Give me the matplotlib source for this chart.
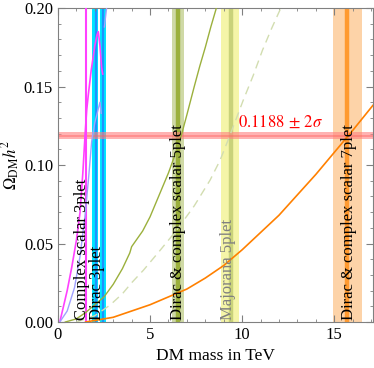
import numpy as np
import matplotlib
matplotlib.use("Agg")
import matplotlib.pyplot as plt
from matplotlib.ticker import MultipleLocator

plt.rcParams['font.family'] = ['Liberation Serif', 'DejaVu Serif']
plt.rcParams['mathtext.fontset'] = 'stix'

# relic abundance curves (mass in TeV, Omega h^2)
m_cs3 = [0.1, 0.2, 0.5, 0.75, 1.0, 1.2, 1.35, 1.47, 1.56, 1.65, 1.8, 2.0, 2.12, 2.19, 2.28, 2.37, 2.43]
om_cs3 = [0.0, 0.005, 0.02, 0.035, 0.052, 0.07, 0.095, 0.119, 0.135, 0.145, 0.16, 0.176, 0.183, 0.185, 0.176, 0.162, 0.158]

m_d3 = [0.1, 0.5, 0.9, 1.2, 1.47, 1.65, 1.83, 2.0, 2.15, 2.28, 2.35]
om_d3 = [0.0, 0.007, 0.022, 0.042, 0.068, 0.09, 0.115, 0.127, 0.134, 0.14, 0.133]
m_d3b = [2.52, 2.6, 2.66]
om_d3b = [0.188, 0.196, 0.202]

m_d5 = [0.4, 1.0, 1.5, 2.0, 2.5, 3.0, 3.5, 3.9, 4.0, 4.3, 4.6, 5.0, 5.5, 6.0, 6.4, 6.7, 7.0, 7.4, 7.7, 8.0, 8.3, 8.6]
om_d5 = [0.0, 0.002, 0.006, 0.011, 0.016, 0.024, 0.034, 0.044, 0.048, 0.053, 0.058, 0.067, 0.081, 0.095, 0.108, 0.119, 0.132, 0.15, 0.163, 0.175, 0.188, 0.2]

m_m5 = [1.0, 2.0, 2.83, 3.5, 4.0, 4.64, 5.5, 6.45, 7.4, 8.26, 8.8, 9.24, 9.6, 10.05, 10.6, 11.1, 11.6, 12.1]
om_m5 = [0.0, 0.004, 0.0108, 0.018, 0.025, 0.033, 0.045, 0.0586, 0.074, 0.0904, 0.103, 0.116, 0.127, 0.141, 0.157, 0.173, 0.187, 0.2]

m_7 = [1.5, 2, 2.5, 3, 3.5, 4, 5, 6, 7, 8, 9, 10, 11, 12, 13, 14, 15, 16, 17.1]
om_7 = [0.0, 0.001, 0.002, 0.003, 0.005, 0.007, 0.011, 0.016, 0.021, 0.028, 0.036, 0.046, 0.057, 0.068, 0.081, 0.094, 0.108, 0.122, 0.138]

# mass bands: low, high, central value
band_lo = [1.85, 2.28, 6.18, 8.86, 14.95]
band_hi = [2.19, 2.61, 6.85, 9.85, 16.5]
band_mid = [2.06, 2.42, 6.52, 9.38, 15.72]
band_col = ['#00e5ff', '#00e5ff', '#cfd9a6', '#f5f5a8', '#fdd3a8']
mid_col = ['#2090ff', '#2090ff', '#9bb03c', '#c9d27a', '#ff9a30']
mid_lw = [1.6, 1.6, 3.2, 3.2, 3.2]

m_cs3_line = 1.52

omega_obs = 0.1188
omega_err = 0.002

labels = ['Complex scalar 3plet', 'Dirac 3plet', 'Dirac & complex scalar 5plet',
          'Majorana 5plet', 'Dirac & complex scalar 7plet']
label_x = [1.33, 2.13, 6.5, 9.24, 15.8]
label_col = ['black', 'black', 'black', '#808080', 'black']

fig = plt.figure(figsize=(3.74, 3.68), dpi=100)
ax = fig.add_axes([0.155, 0.125, 0.842, 0.853])

for lo, hi, mid, c1, c2, w in zip(band_lo, band_hi, band_mid, band_col, mid_col, mid_lw):
    ax.axvspan(lo, hi, color=c1, lw=0, zorder=1)
    ax.axvline(mid, color=c2, lw=w, zorder=1.5)

ax.axhspan(omega_obs - omega_err, omega_obs + omega_err, color='#ff8080', alpha=0.6, lw=0, zorder=2)
ax.axhline(omega_obs, color='#ff6060', alpha=0.5, lw=1.2, zorder=2)

ax.plot(m_cs3, om_cs3, color='#ff40ff', lw=1.2, zorder=3)
ax.axvline(m_cs3_line, color='#ff40ff', lw=1.5, zorder=3)
ax.plot(m_d3, om_d3, color='#a0a0ff', lw=1.0, zorder=3)
ax.plot(m_d3b, om_d3b, color='#a0a0ff', lw=1.0, zorder=3)
ax.plot(m_d5, om_d5, color='#9bb03c', lw=1.0, zorder=3)
ax.plot(m_m5, om_m5, color='#d2ddb0', lw=1.0, ls=(0, (6, 4)), zorder=3)
ax.plot(m_7, om_7, color='#ff8000', lw=1.2, zorder=3)

for txt, x, c in zip(labels, label_x, label_col):
    ax.text(x, 0.0015, txt, rotation=90, ha='center', va='bottom', color=c,
            fontsize=12, zorder=4)

ax.text(12.1, omega_obs + 0.003, r'$0.1188\,\pm\,2\sigma$', color='red', ha='center',
        va='bottom', fontsize=12, zorder=4)

ax.set_xlim(0, 17.1)
ax.set_ylim(0, 0.2)
ax.xaxis.set_major_locator(MultipleLocator(5))
ax.xaxis.set_minor_locator(MultipleLocator(1))
ax.yaxis.set_major_locator(MultipleLocator(0.05))
ax.yaxis.set_minor_locator(MultipleLocator(0.01))
ax.tick_params(which='both', direction='in', top=True, right=True, color='#808080',
               labelsize=12)
ax.tick_params(which='major', length=5)
ax.tick_params(which='minor', length=2.5)
for s in ax.spines.values():
    s.set_color('#808080')

ax.set_xlabel('DM mass in TeV', fontsize=12.5)
ax.set_ylabel(r'$\Omega_{\rm DM}h^2$', fontsize=12, labelpad=1)

plt.savefig('out.png', dpi=100)
